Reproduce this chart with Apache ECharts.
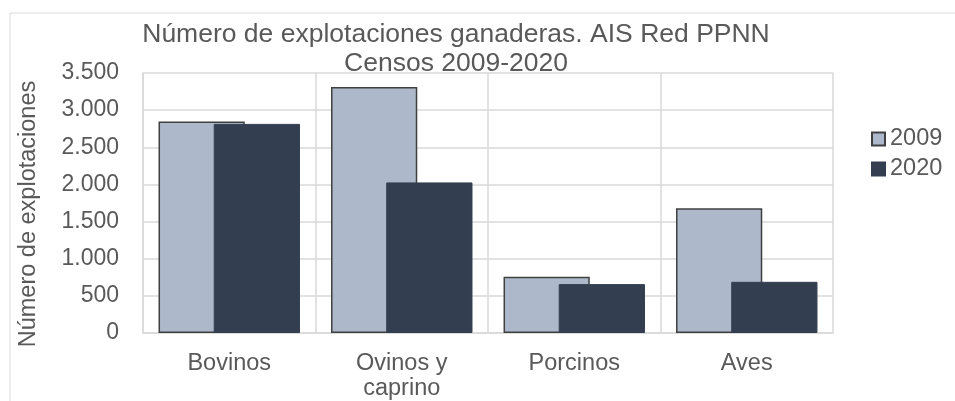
<!DOCTYPE html>
<html>
<head>
<meta charset="utf-8">
<script src="https://cdn.jsdelivr.net/npm/echarts@6/dist/echarts.min.js"></script>
<style>
  html, body { margin: 0; padding: 0; background: #fff; }
  #chart { width: 955px; height: 401px; }
</style>
</head>
<body>
<div id="chart"></div>
<script>
const categories = ['Bovinos', 'Ovinos y\ncaprino', 'Porcinos', 'Aves']
const values2009 = [2846, 3312, 756, 1678]
const values2020 = [2815, 2027, 658, 689]
const seriesNames = ['2009', '2020']

const textColor = '#595959'
const gridColor = '#d9d9d9'

// 3500 -> "3.500"
function fmt(v) {
  return String(v).replace(/\B(?=(\d{3})+(?!\d))/g, '.')
}

const chart = echarts.init(document.getElementById('chart'))

chart.setOption({
  animation: false,
  textStyle: { fontFamily: 'Liberation Sans, Arial, sans-serif' },
  graphic: [{
    type: 'rect',
    shape: { x: 10, y: 13, width: 1000, height: 420 },
    style: { fill: 'none', stroke: gridColor, lineWidth: 1 },
    silent: true
  }],
  title: {
    text: 'Número de explotaciones ganaderas. AIS Red PPNN\nCensos 2009-2020',
    left: 451,
    top: 15,
    textAlign: 'center',
    textStyle: {
      color: textColor,
      fontWeight: 'normal',
      fontSize: 26.5,
      lineHeight: 29
    }
  },
  legend: {
    data: seriesNames,
    orient: 'vertical',
    left: 871,
    top: 127,
    padding: 0,
    icon: 'rect',
    itemWidth: 13,
    itemHeight: 13,
    itemGap: 6,
    textStyle: { color: textColor, fontSize: 23.5, lineHeight: 24 }
  },
  grid: {
    left: 143,
    right: 122,
    top: 73,
    bottom: 67
  },
  xAxis: {
    type: 'category',
    data: categories,
    axisTick: { show: false },
    axisLine: { lineStyle: { color: gridColor, width: 1.5 } },
    splitLine: { show: true, interval: 0, lineStyle: { color: gridColor, width: 1.5 } },
    axisLabel: {
      color: textColor,
      fontSize: 23.5,
      lineHeight: 25,
      margin: 18,
      interval: 0
    }
  },
  yAxis: {
    type: 'value',
    min: 0,
    max: 3500,
    interval: 500,
    name: 'Número de explotaciones',
    nameLocation: 'middle',
    nameGap: 102,
    nameTextStyle: { color: textColor, fontSize: 23.5, padding: [0, 22, 0, 0] },
    axisLine: { show: true, lineStyle: { color: gridColor, width: 1.5 } },
    axisTick: { show: false },
    splitLine: { lineStyle: { color: gridColor, width: 1.5 } },
    axisLabel: {
      color: textColor,
      fontSize: 23,
      margin: 24,
      formatter: fmt
    }
  },
  series: [{
    name: seriesNames[0],
    type: 'bar',
    data: values2009,
    barWidth: '50%',
    barGap: '-36%',
    z: 2,
    itemStyle: {
      color: '#adb9ca',
      borderColor: '#404040',
      borderWidth: 1.5
    }
  }, {
    name: seriesNames[1],
    type: 'bar',
    data: values2020,
    barWidth: '50%',
    z: 3,
    itemStyle: {
      color: '#333f50',
      borderColor: '#333f50',
      borderWidth: 1
    }
  }]
})
</script>
</body>
</html>
